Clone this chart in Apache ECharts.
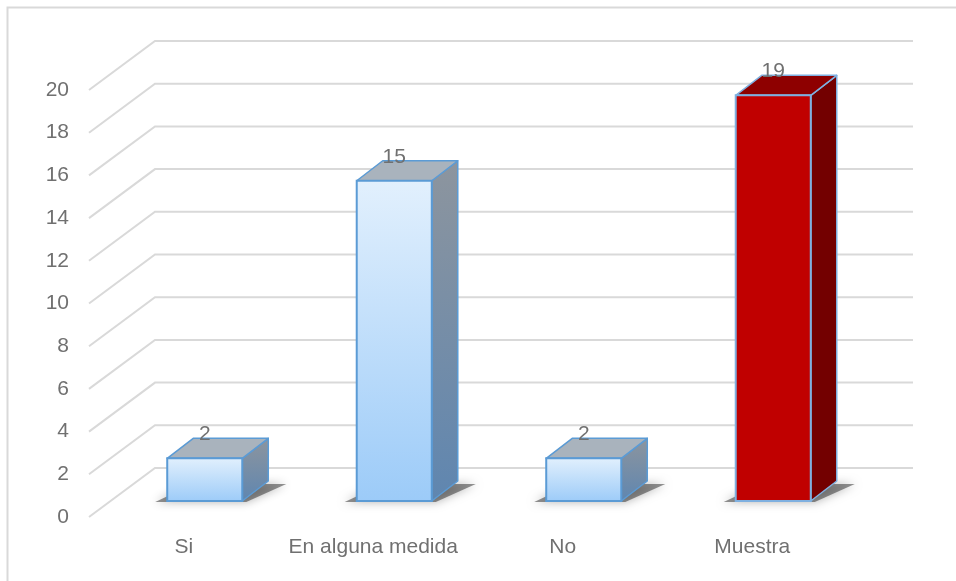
<!DOCTYPE html>
<html>
<head>
<meta charset="utf-8">
<script src="https://cdn.jsdelivr.net/npm/echarts@6/dist/echarts.min.js"></script>
<style>
html,body{margin:0;padding:0;background:#fff;}
#chart{width:956px;height:581px;}
</style>
</head>
<body>
<div id="chart"></div>
<script>
// ---- data ----
var categories = ['Si', 'En alguna medida', 'No', 'Muestra'];
var values = [2, 15, 2, 19];
var yTicks = [0, 2, 4, 6, 8, 10, 12, 14, 16, 18, 20];

// ---- styling (not data) ----
var FONT = 'Liberation Sans, Arial, sans-serif';
var TXT = '#707070';
var FLOOR_FRONT = [-21, 16];   // offset of floor front edge from bar plane
var FLOOR_BACK = [45, -33];    // offset of back wall from bar plane
var BAR_DEPTH = [26, -20];
var BAR_RATIO = 0.396;
var blueStyle = {
  front: new echarts.graphic.LinearGradient(0, 0, 0, 1, [{offset: 0, color: '#e2f0fd'}, {offset: 1, color: '#9ccbf8'}]),
  top: '#a9b3bd',
  side: new echarts.graphic.LinearGradient(0, 0, 0, 1, [{offset: 0, color: '#8d959e'}, {offset: 1, color: '#5f86b0'}]),
  stroke: '#5b9bd5'
};
var redStyle = {
  front: '#c00000', top: '#8e0000', side: '#730000', stroke: '#7fb0e0'
};
var styleFor = function (name) { return name === 'Muestra' ? redStyle : blueStyle; };

var chart = echarts.init(document.getElementById('chart'));

function gridRender(params, api) {
  var v = api.value(0);
  var cs = params.coordSys;
  var p = api.coord([0, v]);
  var y = p[1];
  var left = cs.x, right = cs.x + cs.width;
  return {
    type: 'polyline',
    shape: {points: [[left + FLOOR_FRONT[0], y + FLOOR_FRONT[1]], [left + FLOOR_BACK[0], y + FLOOR_BACK[1]], [right + FLOOR_BACK[0], y + FLOOR_BACK[1]]]},
    style: {stroke: '#d9d9d9', lineWidth: 2, fill: null},
    silent: true
  };
}

function barRender(params, api) {
  var idx = api.value(0);
  var val = api.value(1);
  var p0 = api.coord([idx, 0]);
  var p1 = api.coord([idx, val]);
  var bw = api.size([1, 0])[0] * BAR_RATIO;
  var x0 = p0[0] - bw / 2, x1 = p0[0] + bw / 2;
  var yt = p1[1], yb = p0[1];
  var dx = BAR_DEPTH[0], dy = BAR_DEPTH[1];
  var st = styleFor(categories[idx]);
  return {
    type: 'group',
    children: [
      {
        type: 'polygon',
        shape: {points: [[x0 - 12, yb + 1], [x1 + 4, yb + 1], [x1 + dx + 18, yb + dy + 3], [x0 + dx, yb + dy + 3]]},
        style: {fill: 'rgba(40,40,40,0.5)', shadowBlur: 10, shadowColor: 'rgba(0,0,0,0.6)'},
        silent: true
      },
      {
        type: 'polygon',
        shape: {points: [[x1, yt], [x1 + dx, yt + dy], [x1 + dx, yb + dy], [x1, yb]]},
        style: {fill: st.side, stroke: st.stroke, lineWidth: 1.5, lineJoin: 'round'}
      },
      {
        type: 'polygon',
        shape: {points: [[x0, yt], [x1, yt], [x1 + dx, yt + dy], [x0 + dx, yt + dy]]},
        style: {fill: st.top, stroke: st.stroke, lineWidth: 1.5, lineJoin: 'round'}
      },
      {
        type: 'rect',
        shape: {x: x0, y: yt, width: bw, height: yb - yt},
        style: {fill: st.front, stroke: st.stroke, lineWidth: 2}
      },
      {
        type: 'text',
        x: p0[0], y: yt + dy - 4,
        style: {text: String(val), fill: TXT, font: '21px ' + FONT, align: 'center', verticalAlign: 'middle'},
        silent: true
      }
    ]
  };
}

var option = {
  animation: false,
  backgroundColor: '#ffffff',
  graphic: [{
    type: 'rect', left: 5, top: 5,
    shape: {width: 1200, height: 1200},
    style: {fill: null, stroke: '#d9d9d9', lineWidth: 2},
    silent: true, z: -10
  }],
  grid: [
    {left: 110, right: 88, top: 74, bottom: 80},
    {left: 89, right: 109, top: 90, bottom: 64}
  ],
  xAxis: [
    {type: 'category', gridIndex: 0, data: categories, axisLine: {show: false}, axisTick: {show: false}, axisLabel: {show: false}},
    {type: 'category', gridIndex: 1, data: categories, axisLine: {show: false}, axisTick: {show: false},
      axisLabel: {color: TXT, fontSize: 21, fontFamily: FONT, margin: 20, interval: 0, hideOverlap: false}}
  ],
  yAxis: [
    {type: 'value', gridIndex: 0, min: 0, max: 20, interval: 2, splitLine: {show: false}, axisLabel: {show: false}, axisLine: {show: false}},
    {type: 'value', gridIndex: 1, min: 0, max: 20, interval: 2, splitLine: {show: false}, axisLine: {show: false},
      axisLabel: {color: TXT, fontSize: 21, fontFamily: FONT, margin: 20,
        formatter: function (v) { return yTicks.indexOf(v) >= 0 ? String(v) : ''; }}}
  ],
  series: [
    {
      type: 'custom', xAxisIndex: 0, yAxisIndex: 0, z: 1,
      data: yTicks.map(function (t) { return [t]; }),
      encode: {y: 0},
      renderItem: gridRender,
      silent: true
    },
    {
      type: 'custom', xAxisIndex: 0, yAxisIndex: 0, z: 5,
      data: values.map(function (v, i) { return [i, v]; }),
      encode: {x: 0, y: 1},
      renderItem: barRender
    }
  ]
};
chart.setOption(option);
</script>
</body>
</html>
